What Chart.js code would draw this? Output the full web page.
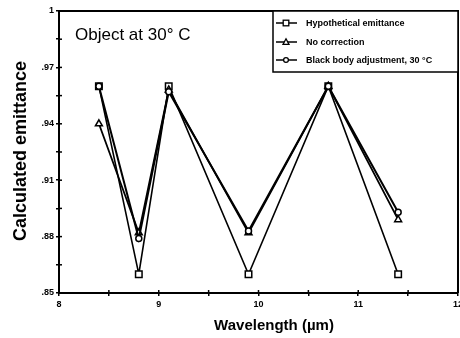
<!DOCTYPE html>
<html>
<head>
<meta charset="utf-8">
<script src="https://cdn.jsdelivr.net/npm/chart.js@4/dist/chart.umd.min.js"></script>
<style>
html,body{margin:0;padding:0;background:#fff;overflow:hidden;width:460px;height:338px;}
#wrap{width:466px;height:338px;position:relative;}
</style>
</head>
<body>
<div id="wrap"><canvas id="c"></canvas></div>
<script>
const wavelengths = [8.4, 8.8, 9.1, 9.9, 10.7, 11.4];
const hypothetical = [0.96, 0.86, 0.96, 0.86, 0.96, 0.86];
const noCorrection = [0.94, 0.882, 0.958, 0.882, 0.96, 0.889];
const blackBody = [0.96, 0.879, 0.957, 0.883, 0.96, 0.893];
const seriesLabels = ['Hypothetical emittance', 'No correction', 'Black body adjustment, 30 \u00B0C'];
const xTitle = 'Wavelength (\u00B5m)';
const yTitle = 'Calculated emittance';
const noteText = 'Object at 30\u00B0 C';

const toPts = ys => wavelengths.map((x, i) => ({x: x, y: ys[i]}));

const styles = [
  {pointStyle: 'rect', pointRadius: 4.6, borderWidth: 1.6},
  {pointStyle: 'triangle', pointRadius: 4, borderWidth: 1.8},
  {pointStyle: 'circle', pointRadius: 3, borderWidth: 2}
];
const series = [hypothetical, noCorrection, blackBody];

const datasets = series.map((s, i) => ({
  label: seriesLabels[i],
  data: toPts(s),
  borderColor: '#000',
  backgroundColor: '#fff',
  pointBackgroundColor: '#fff',
  pointBorderColor: '#000',
  pointBorderWidth: 1.5,
  borderWidth: styles[i].borderWidth,
  pointStyle: styles[i].pointStyle,
  pointRadius: styles[i].pointRadius,
  tension: 0,
  order: 3 - i
}));

const decor = {
  id: 'decor',
  afterDatasetsDraw(chart) {
    const ctx = chart.ctx;
    const a = chart.chartArea;
    const xs = chart.scales.x, ys = chart.scales.y;
    ctx.save();
    ctx.strokeStyle = '#000';
    ctx.lineWidth = 2;
    ctx.beginPath();
    ctx.moveTo(a.left, a.top); ctx.lineTo(a.right, a.top); ctx.lineTo(a.right, a.bottom);
    ctx.stroke();
    ctx.lineWidth = 1.5;
    xs.ticks.forEach(t => {
      const p = xs.getPixelForValue(t.value);
      ctx.beginPath(); ctx.moveTo(p, a.bottom); ctx.lineTo(p, a.bottom - 3); ctx.stroke();
    });
    ys.ticks.forEach(t => {
      const p = ys.getPixelForValue(t.value);
      ctx.beginPath(); ctx.moveTo(a.left, p); ctx.lineTo(a.left + 3, p); ctx.stroke();
    });
    ctx.fillStyle = '#000';
    ctx.font = '17px "Liberation Sans", Arial, sans-serif';
    ctx.textBaseline = 'alphabetic';
    ctx.textAlign = 'left';
    ctx.fillText(noteText, 75, 40);
    ctx.font = 'bold 15px "Liberation Sans", Arial, sans-serif';
    ctx.textAlign = 'center';
    ctx.textBaseline = 'middle';
    ctx.fillText(xTitle, 274, 326);
    ctx.save();
    ctx.translate(21, 151);
    ctx.rotate(-Math.PI / 2);
    ctx.font = 'bold 18px "Liberation Sans", Arial, sans-serif';
    ctx.fillText(yTitle, 0, 0);
    ctx.restore();
    const bx = 273, by = 11, bw = a.right - 273, bh = 61;
    ctx.fillStyle = '#fff';
    ctx.fillRect(bx, by, bw, bh);
    ctx.lineWidth = 1.5;
    ctx.strokeRect(bx, by, bw, bh);
    const rows = [23, 42, 60];
    chart.data.datasets.forEach((d, i) => {
      const y = rows[i];
      ctx.strokeStyle = '#000';
      ctx.lineWidth = 1.5;
      ctx.beginPath(); ctx.moveTo(276, y); ctx.lineTo(297, y); ctx.stroke();
      ctx.save();
      ctx.fillStyle = '#fff';
      ctx.lineWidth = 1.3;
      if (d.pointStyle === 'rect') { ctx.fillRect(286 - 2.8, y - 2.8, 5.6, 5.6); ctx.strokeRect(286 - 2.8, y - 2.8, 5.6, 5.6); }
      else if (d.pointStyle === 'triangle') { ctx.beginPath(); ctx.moveTo(286, y - 3.2); ctx.lineTo(289, y + 2.4); ctx.lineTo(283, y + 2.4); ctx.closePath(); ctx.fill(); ctx.stroke(); }
      else { ctx.beginPath(); ctx.arc(286, y, 2.4, 0, Math.PI * 2); ctx.fill(); ctx.stroke(); }
      ctx.restore();
      ctx.fillStyle = '#000';
      ctx.font = 'bold 9px "Liberation Sans", Arial, sans-serif';
      ctx.textAlign = 'left';
      ctx.textBaseline = 'middle';
      ctx.fillText(d.label, 306, y + 0.5);
    });
    ctx.restore();
  }
};

new Chart(document.getElementById('c'), {
  type: 'line',
  data: {datasets: datasets},
  options: {
    responsive: true,
    maintainAspectRatio: false,
    animation: false,
    layout: {padding: {top: 11, right: 0, left: 0, bottom: 0}},
    plugins: {legend: {display: false}, tooltip: {enabled: false}},
    scales: {
      x: {
        type: 'linear', min: 8, max: 12,
        ticks: {
          stepSize: 0.5, autoSkip: false, maxRotation: 0, padding: 3,
          color: '#000', font: {family: '"Liberation Sans", Arial, sans-serif', size: 9, weight: 'bold'},
          callback: v => Math.abs(v - Math.round(v)) < 1e-6 ? String(Math.round(v)) : ''
        },
        grid: {drawOnChartArea: false, tickLength: 3, color: '#000', lineWidth: 1.5},
        border: {color: '#000', width: 2},
        afterFit: s => { s.height = 45; }
      },
      y: {
        type: 'linear', min: 0.85, max: 1,
        ticks: {
          stepSize: 0.015, autoSkip: false, padding: 2,
          color: '#000', font: {family: '"Liberation Sans", Arial, sans-serif', size: 9, weight: 'bold'},
          callback: v => {
            const r = Math.round(v * 1000);
            if ((r - 850) % 30 !== 0) return '';
            return r === 1000 ? '1' : '.' + (r / 10);
          }
        },
        grid: {drawOnChartArea: false, tickLength: 3, color: '#000', lineWidth: 1.5},
        border: {color: '#000', width: 2},
        afterFit: s => { s.width = 59; }
      }
    }
  },
  plugins: [decor]
});
</script>
</body>
</html>
